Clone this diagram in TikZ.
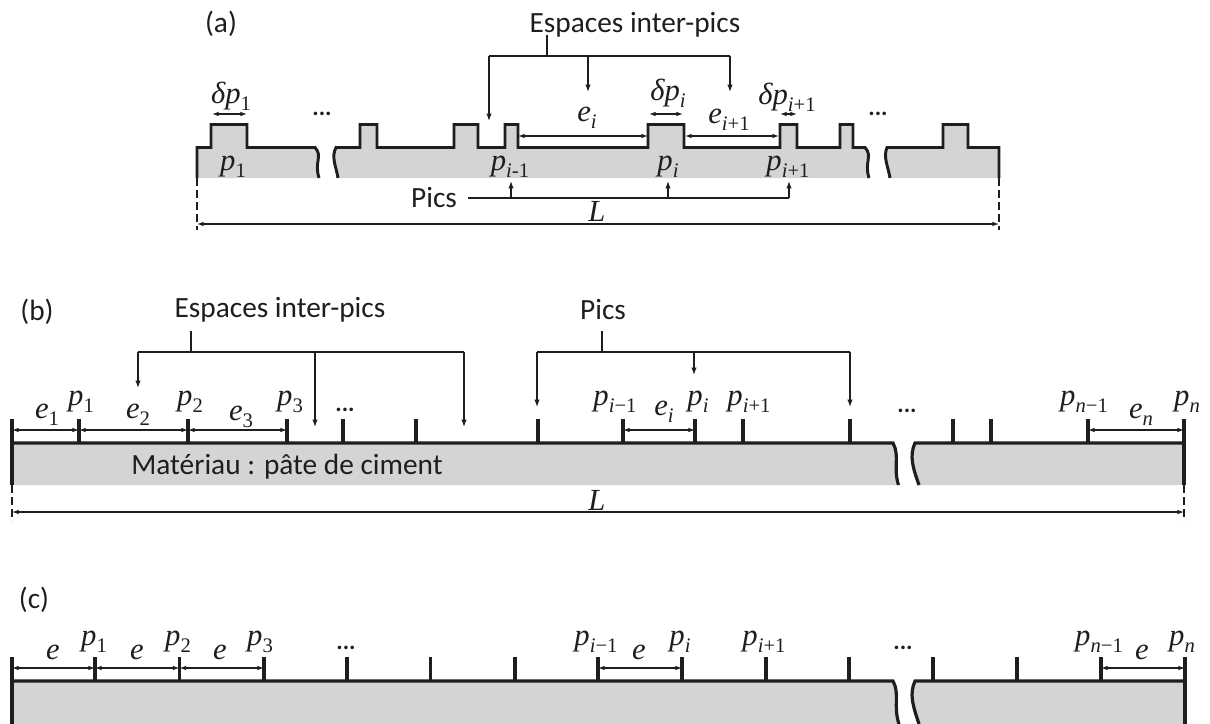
\documentclass[tikz,border=0pt]{standalone}
\usepackage{fontspec}
\setmainfont{Carlito}
\newfontfamily\symfont{Liberation Serif}
\usetikzlibrary{arrows.meta}
\definecolor{matgray}{HTML}{D4D4D4}
\definecolor{inkdark}{HTML}{1E1E1E}
\newcommand{\mlab}{\symfont\fontsize{23}{25}\selectfont}
\newcommand{\tlab}{\fontsize{22}{24}\selectfont}
\newcommand{\dlab}{\fontsize{18}{20}\selectfont\bfseries}
% symbol with a subscript
\newcommand{\sy}[2]{\textit{#1}\raisebox{-0.22em}{\fontsize{15.5}{16}\selectfont #2}}
\newcommand{\ii}{\textit{i}}
\newcommand{\nn}{\textit{n}}

\begin{document}
\begin{tikzpicture}[
    x=0.75pt, y=-0.75pt,
    profile/.style={draw=inkdark, fill=matgray, line width=2.2pt, line join=miter},
    edgeline/.style={draw=inkdark, line width=2.4pt},
    pictick/.style={draw=inkdark, line width=2.5pt},
    wire/.style={draw=inkdark, line width=0.9pt},
    arrow/.style={wire, -{Latex[length=5.5pt,width=4pt]}},
    dimline/.style={wire, {Latex[length=5pt,width=3.5pt]}-{Latex[length=5pt,width=3.5pt]}},
    endline/.style={draw=inkdark, line width=0.9pt, dash pattern=on 6pt off 3pt},
    mathlab/.style={inner sep=0pt, text=inkdark, font=\mlab},
    textlab/.style={inner sep=0pt, text=inkdark, font=\tlab},
    dotslab/.style={inner sep=0pt, text=inkdark, font=\dlab}
  ]
    \useasboundingbox (0,0) rectangle (1210,724);

    % Panel (a): profile
    \node[textlab] (tagA) at (221,24) {(a)};
    \path[profile] (197,178) -- (197,147.5) -- (211,147.5) -- (211,124.5) -- (247,124.5) -- (247,147.5)
      -- (315,147.5) .. controls (323,156) and (314,162) .. (319,178);
    \path[profile] (338,178) .. controls (336,166) and (331,157) .. (336,147.5) -- (360,147.5) -- (360,124.5)
      -- (377,124.5) -- (377,147.5) -- (454,147.5) -- (454,124.5) -- (478,124.5) -- (478,147.5)
      -- (505,147.5) -- (505,124.5) -- (518,124.5) -- (518,147.5) -- (648,147.5) -- (648,124.5)
      -- (684,124.5) -- (684,147.5) -- (780,147.5) -- (780,124.5) -- (797,124.5) -- (797,147.5)
      -- (840,147.5) -- (840,124.5) -- (853,124.5) -- (853,147.5)
      -- (865,147.5) .. controls (873,156) and (864,162) .. (869,178);
    \path[profile] (890,178) .. controls (888,166) and (883,157) .. (887,147.5) -- (943,147.5) -- (943,124.5)
      -- (968,124.5) -- (968,147.5) -- (999,147.5) -- (999,178);

    % Panel (a): Espaces inter-pics
    \node[textlab] (espA) at (635,25) {Espaces inter-pics};
    \coordinate (espAstem) at (547,35);
    \coordinate (espAjoin) at (547,56);
    \coordinate (espAl) at (489,56);
    \coordinate (espAm) at (588,56);
    \coordinate (espAr) at (730,56);
    \coordinate (espAlend) at (489,121);
    \coordinate (espAmend) at (588,92);
    \coordinate (espArend) at (730,92);
    \draw[wire] (espAstem) -- (espAjoin);
    \draw[wire] (espAl) -- (espAr);
    \draw[arrow] (espAl) -- (espAlend);
    \draw[arrow] (espAm) -- (espAmend);
    \draw[arrow] (espAr) -- (espArend);

    % Panel (a): labels
    \node[mathlab] (dp1) at (231,96) {\sy{δp}{1}};
    \node[mathlab] (dpi) at (668,93) {\sy{δp}{\ii}};
    \node[mathlab] (dpj) at (787,97) {\sy{δp}{\ii+1}};
    \node[mathlab] (pa1) at (233,167) {\sy{p}{1}};
    \node[mathlab] (pah) at (510,167) {\sy{p}{\ii-1}};
    \node[mathlab] (pai) at (668,167) {\sy{p}{\ii}};
    \node[mathlab] (paj) at (788,167) {\sy{p}{\ii+1}};
    \node[mathlab] (eai) at (587,118) {\sy{e}{\ii}};
    \node[mathlab] (eaj) at (729,120) {\sy{e}{\ii+1}};
    \node[dotslab] (dotsA1) at (322,114) {...};
    \node[dotslab] (dotsA2) at (878,114) {...};

    % Panel (a): widths
    \coordinate (wA1) at (212,114);
    \coordinate (wA2) at (247,114);
    \coordinate (wA3) at (649,114);
    \coordinate (wA4) at (683,114);
    \coordinate (wA5) at (780,114);
    \coordinate (wA6) at (797,114);
    \coordinate (wA7) at (518,136);
    \coordinate (wA8) at (648,136);
    \coordinate (wA9) at (685,136);
    \coordinate (wA10) at (779,136);
    \draw[dimline] (wA1) -- (wA2);
    \draw[dimline] (wA3) -- (wA4);
    \draw[dimline] (wA5) -- (wA6);
    \draw[dimline] (wA7) -- (wA8);
    \draw[dimline] (wA9) -- (wA10);

    % Panel (a): Pics and L
    \node[textlab] (picsA) at (434,198) {Pics};
    \coordinate (picsAr) at (789,198);
    \coordinate (picsAm) at (668,198);
    \coordinate (picsAl) at (511,198);
    \coordinate (picsAlend) at (511,181);
    \coordinate (picsAmend) at (668,181);
    \coordinate (picsArend) at (789,181);
    \draw[wire] ([xshift=8pt]picsA.east) -- (picsAr);
    \draw[arrow] (picsAl) -- (picsAlend);
    \draw[arrow] (picsAm) -- (picsAmend);
    \draw[arrow] (picsAr) -- (picsArend);
    \node[mathlab] (lenA) at (597,211) {\textit{L}};
    \coordinate (lenAl) at (197,224);
    \coordinate (lenAr) at (999,224);
    \draw[dimline] (lenAl) -- (lenAr);
    \draw[endline] (197,178) -- (197,230);
    \draw[endline] (999,178) -- (999,230);

    % Panel (b): material
    \node[textlab] (tagB) at (37,312) {(b)};
    \path[fill=matgray] (12,443) -- (893,443) .. controls (900,456) and (893,468) .. (898.5,485) -- (12,485) -- cycle;
    \path[fill=matgray] (915,443) -- (1184,443) -- (1184,485) -- (919,485) .. controls (913,468) and (909,456) .. (915,443);
    \draw[edgeline] (12,443) -- (893,443) .. controls (900,456) and (893,468) .. (898.5,485);
    \draw[edgeline] (919,485) .. controls (913,468) and (909,456) .. (915,443) -- (1184,443);
    \draw[edgeline] (12,485) -- (12,419);
    \draw[edgeline] (1184,485) -- (1184,419);
    \foreach \x in {79,188,287,343,416,538,623,695,743,850,953,991,1088}
      \draw[pictick] (\x,443) -- (\x,419);
    \node[textlab] (matB) at (287,467) {Matériau : pâte de ciment};

    % Panel (b): Espaces inter-pics
    \node[textlab] (espB) at (280,310) {Espaces inter-pics};
    \coordinate (espBstem) at (191,331);
    \coordinate (espBjoin) at (191,352);
    \coordinate (espBl) at (138,352);
    \coordinate (espBm) at (315,352);
    \coordinate (espBr) at (464,352);
    \coordinate (espBlend) at (138,388);
    \coordinate (espBmend) at (315,427);
    \coordinate (espBrend) at (464,427);
    \draw[wire] (espBstem) -- (espBjoin);
    \draw[wire] (espBl) -- (espBr);
    \draw[arrow] (espBl) -- (espBlend);
    \draw[arrow] (espBm) -- (espBmend);
    \draw[arrow] (espBr) -- (espBrend);

    % Panel (b): Pics
    \node[textlab] (picsB) at (603,310) {Pics};
    \coordinate (picsBstem) at (602,331);
    \coordinate (picsBjoin) at (602,352);
    \coordinate (picsBl) at (537,352);
    \coordinate (picsBm) at (694,352);
    \coordinate (picsBr) at (850,352);
    \coordinate (picsBlend) at (537,407);
    \coordinate (picsBmend) at (694,375);
    \coordinate (picsBrend) at (850,407);
    \draw[wire] (picsBstem) -- (picsBjoin);
    \draw[wire] (picsBl) -- (picsBr);
    \draw[arrow] (picsBl) -- (picsBlend);
    \draw[arrow] (picsBm) -- (picsBmend);
    \draw[arrow] (picsBr) -- (picsBrend);

    % Panel (b): labels
    \node[mathlab] (eb1) at (47,415) {\sy{e}{1}};
    \node[mathlab] (pb1) at (81,402) {\sy{p}{1}};
    \node[mathlab] (eb2) at (138,415) {\sy{e}{2}};
    \node[mathlab] (pb2) at (190,402) {\sy{p}{2}};
    \node[mathlab] (eb3) at (241,417) {\sy{e}{3}};
    \node[mathlab] (pb3) at (290,402) {\sy{p}{3}};
    \node[dotslab] (dotsB1) at (345,410) {...};
    \node[mathlab] (pbh) at (615,402) {\sy{p}{\ii−1}};
    \node[mathlab] (ebi) at (664,412) {\sy{e}{\ii}};
    \node[mathlab] (pbi) at (698,402) {\sy{p}{\ii}};
    \node[mathlab] (pbj) at (749,402) {\sy{p}{\ii+1}};
    \node[dotslab] (dotsB2) at (907,411) {...};
    \node[mathlab] (pbm) at (1084,402) {\sy{p}{\nn−1}};
    \node[mathlab] (ebn) at (1141,415) {\sy{e}{\nn}};
    \node[mathlab] (pbn) at (1187,402) {\sy{p}{\nn}};

    % Panel (b): widths
    \coordinate (wB0) at (12,430);
    \coordinate (wB1) at (79,430);
    \coordinate (wB2) at (188,430);
    \coordinate (wB3) at (287,430);
    \coordinate (wB4) at (623,430);
    \coordinate (wB5) at (695,430);
    \coordinate (wB6) at (1088,430);
    \coordinate (wB7) at (1184,430);
    \draw[dimline] (wB0) -- (wB1);
    \draw[dimline] (wB1) -- (wB2);
    \draw[dimline] (wB2) -- (wB3);
    \draw[dimline] (wB4) -- (wB5);
    \draw[dimline] (wB6) -- (wB7);

    % Panel (b): L
    \node[mathlab] (lenB) at (597,500) {\textit{L}};
    \coordinate (lenBl) at (12,512);
    \coordinate (lenBr) at (1184,512);
    \draw[dimline] (lenBl) -- (lenBr);
    \draw[endline] (12,485) -- (12,521);
    \draw[endline] (1184,485) -- (1184,521);

    % Panel (c): material
    \node[textlab] (tagC) at (34,600) {(c)};
    \path[fill=matgray] (12,681) -- (893,681) .. controls (900,694) and (893,706) .. (899,724) -- (12,724) -- cycle;
    \path[fill=matgray] (915,681) -- (1185,681) -- (1185,724) -- (919,724) .. controls (913,706) and (909,694) .. (915,681);
    \draw[edgeline] (12,681) -- (893,681) .. controls (900,694) and (893,706) .. (899,724);
    \draw[edgeline] (919,724) .. controls (913,706) and (909,694) .. (915,681) -- (1185,681);
    \draw[edgeline] (12,724) -- (12,657);
    \draw[edgeline] (1185,724) -- (1185,657);
    \foreach \x in {95,179.5,264,347,430.5,515,598,682,766,849,933,1017,1101}
      \draw[pictick] (\x,681) -- (\x,657);

    % Panel (c): labels
    \node[mathlab] (ec1) at (53,652) {\textit{e}};
    \node[mathlab] (pc1) at (94,642) {\sy{p}{1}};
    \node[mathlab] (ec2) at (137,652) {\textit{e}};
    \node[mathlab] (pc2) at (178,642) {\sy{p}{2}};
    \node[mathlab] (ec3) at (220,652) {\textit{e}};
    \node[mathlab] (pc3) at (260,642) {\sy{p}{3}};
    \node[dotslab] (dotsC1) at (346,648) {...};
    \node[mathlab] (pch) at (596,642) {\sy{p}{\ii−1}};
    \node[mathlab] (eci) at (639,652) {\textit{e}};
    \node[mathlab] (pci) at (680,642) {\sy{p}{\ii}};
    \node[mathlab] (pcj) at (764,642) {\sy{p}{\ii+1}};
    \node[dotslab] (dotsC2) at (903,648) {...};
    \node[mathlab] (pcm) at (1099,642) {\sy{p}{\nn−1}};
    \node[mathlab] (ecn) at (1142,652) {\textit{e}};
    \node[mathlab] (pcn) at (1182,642) {\sy{p}{\nn}};

    % Panel (c): widths
    \coordinate (wC0) at (12,668);
    \coordinate (wC1) at (95,668);
    \coordinate (wC2) at (179.5,668);
    \coordinate (wC3) at (264,668);
    \coordinate (wC4) at (598,668);
    \coordinate (wC5) at (682,668);
    \coordinate (wC6) at (1101,668);
    \coordinate (wC7) at (1185,668);
    \draw[dimline] (wC0) -- (wC1);
    \draw[dimline] (wC1) -- (wC2);
    \draw[dimline] (wC2) -- (wC3);
    \draw[dimline] (wC4) -- (wC5);
    \draw[dimline] (wC6) -- (wC7);
\end{tikzpicture}
\end{document}
